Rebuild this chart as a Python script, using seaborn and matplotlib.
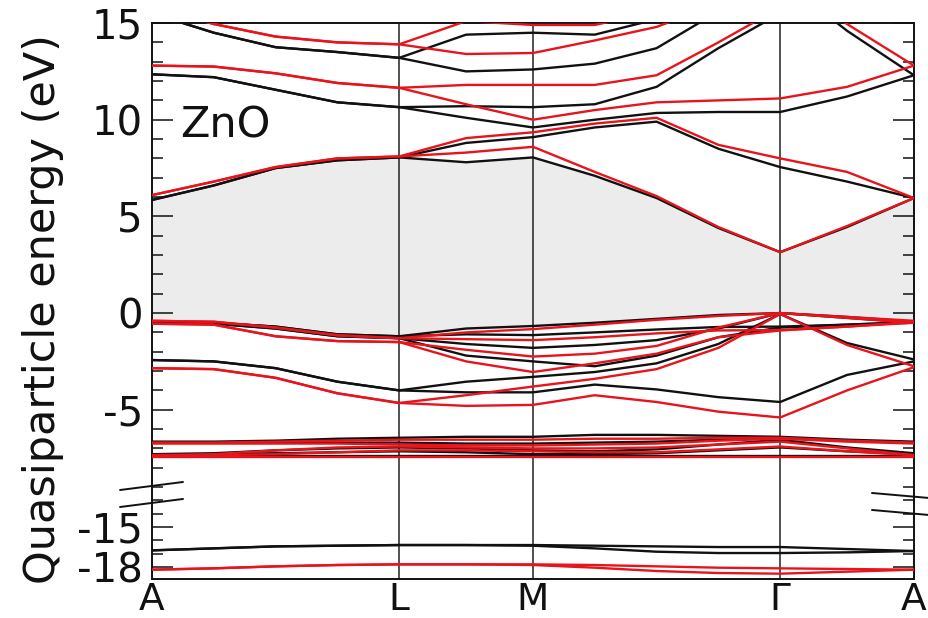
import numpy as np
import pandas as pd
import matplotlib
matplotlib.use("Agg")
import matplotlib.pyplot as plt
from matplotlib.ticker import MultipleLocator, FixedLocator
from matplotlib.lines import Line2D
import seaborn as sns

nan = float("nan")

# Path A-L-M-Gamma-A of wurtzite ZnO: segment lengths in 1/Angstrom and samples per segment
path_labels = ["A", "L", "M", "Γ", "A"]
segment_lengths = [1.116, 0.604, 1.116, 0.604]
segment_samples = [4, 2, 4, 2]

# Conduction bands (eV), calculation 1 (black)
cb_black_1 = [15.5, 14.5, 13.75, 13.5, 13.2, 14.4, 14.5, 14.4, 15.2, nan, nan, nan, nan]
cb_black_2 = [15.5, 14.5, 13.75, 13.5, 13.2, 12.5, 12.6, 12.9, 13.7, 15.6, 17.3, 14.6, 12.3]
cb_black_3 = [12.35, 12.2, 11.55, 10.9, 10.65, 10.7, 10.65, 10.8, 11.7, 13.7, 15.5, nan, nan]
cb_black_4 = [12.35, 12.2, 11.55, 10.9, 10.65, 10.1, 9.6, 10.0, 10.35, 10.4, 10.4, 11.2, 12.3]
cb_black_5 = [5.85, 6.6, 7.5, 7.9, 8.05, 8.8, 9.1, 9.6, 9.9, 8.5, 7.55, 6.8, 5.95]
cb_black_6 = [5.85, 6.6, 7.5, 7.9, 8.05, 7.8, 8.05, 7.1, 5.95, 4.4, 3.15, 4.45, 5.95]

# Conduction bands (eV), calculation 2 (red)
cb_red_1 = [15.8, 14.95, 14.3, 14.0, 13.9, 15.1, 14.9, 14.9, 15.6, nan, nan, nan, nan]
cb_red_2 = [15.8, 14.95, 14.3, 14.0, 13.9, 13.4, 13.45, 14.1, 14.8, 16.0, 17.5, 14.95, 12.8]
cb_red_3 = [12.8, 12.75, 12.4, 11.9, 11.65, 11.8, 11.8, 11.8, 12.3, 14.0, 15.8, nan, nan]
cb_red_4 = [12.8, 12.75, 12.4, 11.9, 11.65, 10.8, 10.0, 10.5, 10.9, 11.0, 11.1, 11.7, 12.8]
cb_red_5 = [6.1, 6.8, 7.55, 8.0, 8.1, 9.05, 9.35, 9.8, 10.1, 8.7, 8.0, 7.3, 5.95]
cb_red_6 = [6.1, 6.8, 7.55, 8.0, 8.1, 8.3, 8.6, 7.3, 6.05, 4.45, 3.15, 4.5, 5.95]

# O-2p valence bands (eV)
vb_black_1 = [-0.45, -0.5, -0.7, -1.1, -1.2, -0.8, -0.67, -0.5, -0.3, -0.1, 0.0, -0.2, -0.45]
vb_black_2 = [-0.45, -0.5, -0.7, -1.1, -1.2, -1.1, -1.14, -1.0, -0.85, -0.72, -0.7, -0.6, -0.45]
vb_black_3 = [-0.5, -0.55, -0.8, -1.2, -1.3, -1.6, -1.8, -1.65, -1.4, -0.8, 0.0, -0.25, -0.5]
vb_black_4 = [-0.5, -0.55, -0.8, -1.2, -1.3, -2.2, -2.5, -2.75, -2.2, -1.25, -0.75, -0.6, -0.5]
vb_black_5 = [-2.43, -2.5, -2.85, -3.55, -4.0, -3.55, -3.3, -3.05, -2.6, -1.6, -0.05, -1.55, -2.4]
vb_black_6 = [-2.43, -2.5, -2.85, -3.55, -4.0, -4.1, -4.1, -3.7, -3.95, -4.35, -4.6, -3.2, -2.5]
vb_red_1 = [-0.4, -0.45, -0.75, -1.15, -1.3, -1.0, -0.83, -0.6, -0.35, -0.15, 0.0, -0.2, -0.4]
vb_red_2 = [-0.4, -0.45, -0.75, -1.15, -1.3, -1.35, -1.4, -1.25, -1.05, -0.9, -0.88, -0.7, -0.45]
vb_red_3 = [-0.55, -0.6, -1.2, -1.45, -1.5, -1.9, -2.25, -2.1, -1.7, -0.75, 0.0, -0.25, -0.5]
vb_red_4 = [-0.55, -0.6, -1.2, -1.45, -1.5, -2.5, -3.05, -2.6, -2.1, -1.25, -0.9, -0.7, -0.5]
vb_red_5 = [-2.85, -2.9, -3.35, -4.15, -4.65, -4.25, -3.8, -3.4, -2.9, -1.8, -0.05, -1.65, -2.75]
vb_red_6 = [-2.85, -2.9, -3.35, -4.15, -4.65, -4.8, -4.75, -4.25, -4.6, -5.1, -5.4, -4.0, -2.8]

# Zn-3d bands (eV)
d_black_1 = [-6.65, -6.65, -6.6, -6.5, -6.45, -6.4, -6.4, -6.3, -6.3, -6.35, -6.4, -6.55, -6.65]
d_black_2 = [-6.7, -6.7, -6.7, -6.7, -6.7, -6.75, -6.75, -6.7, -6.65, -6.55, -6.45, -6.6, -6.7]
d_black_3 = [-7.3, -7.25, -7.1, -7.0, -6.95, -7.0, -7.1, -7.15, -7.05, -6.8, -6.55, -6.95, -7.25]
d_black_4 = [-7.3, -7.3, -7.25, -7.2, -7.15, -7.2, -7.3, -7.3, -7.25, -7.1, -6.95, -7.15, -7.3]
d_black_5 = [-7.4, -7.4, -7.4, -7.4, -7.4, -7.4, -7.4, -7.4, -7.4, -7.4, -7.4, -7.4, -7.4]
d_red_1 = [-6.7, -6.7, -6.65, -6.6, -6.55, -6.55, -6.55, -6.5, -6.5, -6.45, -6.45, -6.6, -6.7]
d_red_2 = [-6.75, -6.75, -6.75, -6.75, -6.8, -6.85, -6.85, -6.8, -6.75, -6.6, -6.5, -6.65, -6.75]
d_red_3 = [-7.35, -7.3, -7.1, -6.95, -6.9, -6.95, -7.0, -7.0, -6.95, -6.8, -6.65, -7.0, -7.35]
d_red_4 = [-7.35, -7.35, -7.3, -7.2, -7.1, -7.1, -7.15, -7.2, -7.2, -7.05, -6.9, -7.15, -7.35]
d_red_5 = [-7.45, -7.45, -7.45, -7.45, -7.45, -7.45, -7.45, -7.45, -7.45, -7.45, -7.45, -7.45, -7.45]

# O-2s bands (eV)
s_black_1 = [-16.75, -16.6, -16.45, -16.4, -16.35, -16.35, -16.35, -16.4, -16.45, -16.5, -16.5, -16.65, -16.8]
s_black_2 = [-16.75, -16.6, -16.45, -16.4, -16.35, -16.35, -16.4, -16.6, -16.85, -16.95, -16.95, -16.9, -16.8]
s_red_1 = [-18.2, -18.1, -17.95, -17.85, -17.8, -17.8, -17.8, -17.85, -17.95, -18.05, -18.1, -18.15, -18.2]
s_red_2 = [-18.2, -18.1, -17.95, -17.85, -17.8, -17.8, -17.85, -18.05, -18.3, -18.45, -18.5, -18.35, -18.2]

upper_ticks = [15, 10, 5, 0, -5]
lower_ticks = [-15, -18]
lower_minor_ticks = [-13, -14, -16, -17]

# k coordinates of the samples along the path
k_nodes = np.concatenate([[0.0], np.cumsum(segment_lengths)])
k_grid = np.concatenate(
    [np.linspace(k_nodes[i], k_nodes[i + 1], n + 1)[:-1] for i, n in enumerate(segment_samples)]
    + [[k_nodes[-1]]]
)

upper_black = {
    "cb1": cb_black_1, "cb2": cb_black_2, "cb3": cb_black_3, "cb4": cb_black_4,
    "cb5": cb_black_5, "cb6": cb_black_6,
    "vb1": vb_black_1, "vb2": vb_black_2, "vb3": vb_black_3, "vb4": vb_black_4,
    "vb5": vb_black_5, "vb6": vb_black_6,
    "d1": d_black_1, "d2": d_black_2, "d3": d_black_3, "d4": d_black_4, "d5": d_black_5,
}
upper_red = {
    "cb1": cb_red_1, "cb2": cb_red_2, "cb3": cb_red_3, "cb4": cb_red_4,
    "cb5": cb_red_5, "cb6": cb_red_6,
    "vb1": vb_red_1, "vb2": vb_red_2, "vb3": vb_red_3, "vb4": vb_red_4,
    "vb5": vb_red_5, "vb6": vb_red_6,
    "d1": d_red_1, "d2": d_red_2, "d3": d_red_3, "d4": d_red_4, "d5": d_red_5,
}
lower_black = {"s1": s_black_1, "s2": s_black_2}
lower_red = {"s1": s_red_1, "s2": s_red_2}


def long_table(groups):
    rows = []
    for method, bands in groups:
        for name, values in bands.items():
            for kk, e in zip(k_grid, values):
                rows.append((method, f"{method}-{name}", kk, e))
    return pd.DataFrame(rows, columns=["method", "band", "k", "E"]).dropna()


df_upper = long_table([("black", upper_black), ("red", upper_red)])
df_lower = long_table([("black", lower_black), ("red", lower_red)])

palette = {"black": "#111111", "red": "#e8141c"}

sns.set_theme(style="ticks")
plt.rcParams["font.family"] = ["DejaVu Sans"]
plt.rcParams["axes.unicode_minus"] = False

fig = plt.figure(figsize=(9.29, 6.18), dpi=100)
ax_top = fig.add_axes([0.1636, 0.2006, 0.8202, 0.7621])
ax_bot = fig.add_axes([0.1636, 0.0631, 0.8202, 0.1375])

# band gap shading between the valence band maximum and conduction band minimum
vbm = np.nanmax(np.array([vb_black_1, vb_black_2, vb_black_3, vb_black_4, vb_black_5, vb_black_6]), axis=0)
cbm = np.nanmin(np.array([cb_black_1, cb_black_2, cb_black_3, cb_black_4, cb_black_5, cb_black_6]), axis=0)
ax_top.fill_between(k_grid, vbm, cbm, color="#ececec", lw=0, zorder=0)

for ax in (ax_top, ax_bot):
    for kk in k_nodes[1:-1]:
        ax.axvline(kk, color="#222222", lw=1.1, zorder=1)

for ax, df in ((ax_top, df_upper), (ax_bot, df_lower)):
    sns.lineplot(data=df, x="k", y="E", hue="method", units="band", estimator=None,
                 hue_order=["black", "red"], palette=palette, linewidth=1.7,
                 legend=False, sort=False, ax=ax, zorder=3)

ax_top.set_xlim(k_nodes[0], k_nodes[-1])
ax_bot.set_xlim(k_nodes[0], k_nodes[-1])
ax_top.set_ylim(-9.36, 15.0)
ax_bot.set_ylim(-18.9, -12.52)

for ax in (ax_top, ax_bot):
    ax.set_xlabel("")
    ax.set_ylabel("")
    for side in ("left", "right", "top", "bottom"):
        ax.spines[side].set_linewidth(1.4)
        ax.spines[side].set_color("#111111")
    ax.tick_params(axis="y", which="both", direction="in", left=True, right=True,
                   width=1.1, color="#111111", labelsize=29, pad=6.5, labelcolor="#111111")
    ax.tick_params(axis="y", which="major", length=15)
    ax.tick_params(axis="y", which="minor", length=8)

ax_top.spines["bottom"].set_visible(False)
ax_bot.spines["top"].set_visible(False)

ax_top.set_yticks(upper_ticks)
ax_top.set_yticklabels([str(t) for t in upper_ticks])
ax_top.yaxis.set_minor_locator(MultipleLocator(1))
ax_top.tick_params(axis="x", which="both", bottom=False, top=False, labelbottom=False)

ax_bot.set_yticks(lower_ticks)
ax_bot.set_yticklabels([str(t) for t in lower_ticks])
ax_bot.yaxis.set_minor_locator(FixedLocator(lower_minor_ticks))
ax_bot.set_xticks(k_nodes)
ax_bot.set_xticklabels(path_labels)
ax_bot.tick_params(axis="x", which="both", length=0, labelsize=27, pad=2, labelcolor="#111111")

ax_top.text(0.126, 9.7, "ZnO", fontsize=31, ha="left", va="center", color="#111111", zorder=4)

fig.text(0.046, 0.5, "Quasiparticle energy (eV)", rotation=90, ha="center", va="center",
         fontsize=31, color="#111111")

# axis-break marks on both vertical spines
for (x0, x1, y0, y1) in [
    (0.1292, 0.1970, 0.2071, 0.2201),
    (0.1292, 0.1970, 0.1796, 0.1926),
    (0.9386, 1.0000, 0.2023, 0.1942),
    (0.9386, 1.0000, 0.1748, 0.1667),
]:
    fig.add_artist(Line2D([x0, x1], [y0, y1], transform=fig.transFigure,
                          color="#111111", lw=1.4, clip_on=False))

fig.savefig("out.png", dpi=100)
